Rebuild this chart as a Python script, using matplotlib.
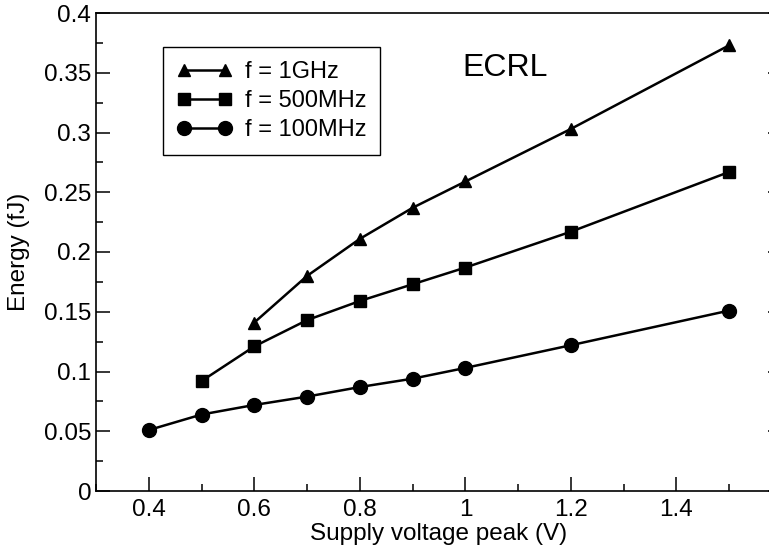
import numpy as np
import matplotlib
matplotlib.use('Agg')
import matplotlib.pyplot as plt
from matplotlib.ticker import MultipleLocator

plt.rcParams['font.family'] = ['Liberation Sans', 'DejaVu Sans']

# data
v_1g = [0.6, 0.7, 0.8, 0.9, 1.0, 1.2, 1.5]
e_1g = [0.141, 0.180, 0.211, 0.237, 0.259, 0.303, 0.373]
v_500m = [0.5, 0.6, 0.7, 0.8, 0.9, 1.0, 1.2, 1.5]
e_500m = [0.092, 0.121, 0.143, 0.159, 0.173, 0.187, 0.217, 0.267]
v_100m = [0.4, 0.5, 0.6, 0.7, 0.8, 0.9, 1.0, 1.2, 1.5]
e_100m = [0.051, 0.064, 0.072, 0.079, 0.087, 0.094, 0.103, 0.122, 0.151]

fig = plt.figure(figsize=(7.69, 5.51), dpi=100)
# right spine falls just outside the picture, as in the reference
ax = fig.add_axes([96/769, 60/551, 686/769, 478/551])

ax.plot(v_1g, e_1g, color='black', lw=1.8, marker='^', ms=9, label='f = 1GHz')
ax.plot(v_500m, e_500m, color='black', lw=1.8, marker='s', ms=8, label='f = 500MHz')
ax.plot(v_100m, e_100m, color='black', lw=1.8, marker='o', ms=10, label='f = 100MHz')

ax.set_xlim(0.3, 1.6)
ax.set_ylim(0, 0.4)
ax.xaxis.set_minor_locator(MultipleLocator(0.1))
ax.yaxis.set_minor_locator(MultipleLocator(0.025))
ax.set_xticks([0.4, 0.6, 0.8, 1.0, 1.2, 1.4])
ax.set_xticklabels(['0.4', '0.6', '0.8', '1', '1.2', '1.4'])
ax.set_yticks([0, 0.05, 0.1, 0.15, 0.2, 0.25, 0.3, 0.35, 0.4])
ax.set_yticklabels(['0', '0.05', '0.1', '0.15', '0.2', '0.25', '0.3', '0.35', '0.4'])

ax.tick_params(which='both', direction='in', right=True, top=False, width=1.1, labelsize=17.5)
ax.tick_params(which='major', length=10)
ax.tick_params(which='minor', length=5)
ax.tick_params(axis='x', pad=6)
for pos in ['left', 'bottom', 'top', 'right']:
    ax.spines[pos].set_linewidth(1.2)

ax.set_xlabel('Supply voltage peak (V)', fontsize=17.5, labelpad=1)
ax.set_ylabel('Energy (fJ)', fontsize=17.5, labelpad=10)

ax.text(0.596, 0.885, 'ECRL', transform=ax.transAxes, fontsize=23,
        ha='center', va='center')

leg = ax.legend(loc='upper left', bbox_to_anchor=(0.098, 0.929), borderaxespad=0,
                fontsize=17, numpoints=2, handlelength=2.3, handletextpad=0.55,
                labelspacing=0.3, fancybox=False, framealpha=1, borderpad=0.6)
leg.get_frame().set_edgecolor('black')
leg.get_frame().set_linewidth(1.0)

plt.savefig('out.png', dpi=100)
plt.close('all')
